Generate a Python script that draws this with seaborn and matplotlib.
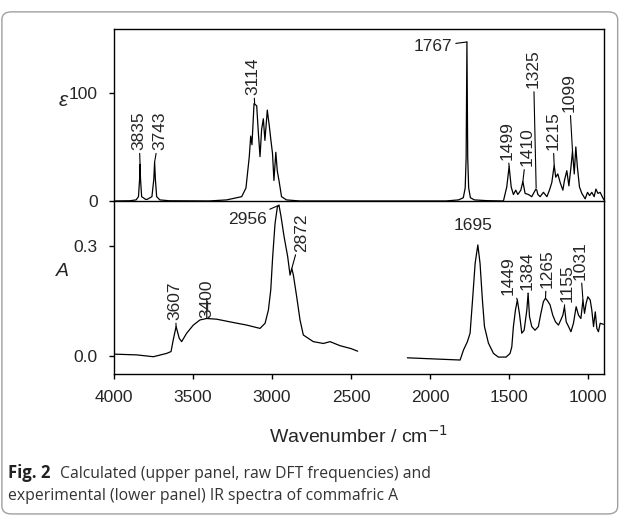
import pandas as pd
import numpy as np
import matplotlib.pyplot as plt
import seaborn as sns
from matplotlib.patches import FancyBboxPatch

## calculated spectrum (upper panel)
calc_wn = [4000, 3900, 3860, 3845, 3838, 3835, 3832, 3825, 3800, 3790, 3760, 3748, 3743, 3738, 3730, 3710, 3650,
           3400, 3287, 3192, 3165, 3144, 3135, 3127, 3118, 3114, 3097, 3087, 3076, 3066, 3055, 3045, 3030, 3017,
           3007, 2997, 2988, 2976, 2967, 2955, 2940, 2909, 2824, 2500,
           1900, 1820, 1790, 1778, 1772, 1767, 1762, 1756, 1745, 1720, 1640, 1536,
           1515, 1500, 1487, 1473, 1458, 1445, 1426, 1413, 1399, 1378, 1357, 1342, 1331, 1325, 1318, 1304, 1283,
           1261, 1245, 1230, 1215, 1205, 1192, 1177, 1160, 1150, 1135, 1122, 1109, 1099, 1088, 1078, 1068, 1055,
           1040, 1019, 1004, 991, 977, 962, 951, 938, 924, 911, 900]
calc_eps = [0, 0.2, 1, 4, 20, 34, 20, 4, 1.5, 1.5, 4, 20, 36, 20, 4, 1, 0.2,
            0, 1, 4, 12, 41, 60, 52, 78, 90, 88, 64, 41, 66, 76, 56, 84, 69,
            56, 44, 19, 45, 28, 18, 4, 1, 0, 0,
            0, 1, 3, 12, 40, 147, 40, 12, 3, 1, 0.3, 0,
            13, 32, 13, 6, 10, 6, 10, 18, 7, 6, 4, 8, 11, 10, 6, 4, 8,
            4, 10, 17, 33, 22, 25, 17, 10, 19, 28, 14, 31, 46, 25, 50, 31, 13,
            7, 2, 8, 5, 8, 4, 11, 7, 8, 4, 1]

## experimental spectrum (lower panel), two segments
exp1_wn = [4000, 3857, 3751, 3667, 3639, 3625, 3607, 3587, 3572, 3540, 3498, 3456, 3413, 3350, 3245, 3160,
           3076, 3044, 3023, 3008, 2996, 2981, 2966, 2956, 2943, 2924, 2901, 2886, 2875, 2865, 2844, 2823,
           2802, 2739, 2675, 2633, 2570, 2500, 2458]
exp1_abs = [0.005, 0.003, -0.002, 0.007, 0.012, 0.044, 0.08, 0.048, 0.039, 0.062, 0.084, 0.098, 0.102, 0.1,
            0.091, 0.084, 0.075, 0.089, 0.125, 0.18, 0.27, 0.36, 0.406, 0.41, 0.379, 0.325, 0.27, 0.22, 0.238,
            0.22, 0.161, 0.098, 0.057, 0.039, 0.034, 0.039, 0.028, 0.02, 0.013]
exp2_wn = [2144, 1810, 1789, 1764, 1747, 1730, 1715, 1698, 1684, 1669, 1656, 1631, 1599, 1568, 1519, 1494,
           1483, 1473, 1460, 1448, 1435, 1420, 1405, 1388, 1380, 1371, 1357, 1336, 1315, 1299, 1283, 1270,
           1257, 1241, 1224, 1207, 1188, 1173, 1160, 1150, 1139, 1124, 1109, 1093, 1076, 1061, 1046, 1033,
           1023, 1013, 1002, 987, 977, 966, 955, 945, 935, 924, 903]
exp2_abs = [-0.005, -0.011, 0.016, 0.039, 0.062, 0.161, 0.252, 0.302, 0.252, 0.152, 0.08, 0.035, 0.007,
            -0.003, -0.003, 0.007, 0.025, 0.08, 0.125, 0.152, 0.116, 0.062, 0.07, 0.125, 0.17, 0.107, 0.08,
            0.07, 0.08, 0.116, 0.148, 0.157, 0.15, 0.139, 0.111, 0.093, 0.084, 0.098, 0.111, 0.134, 0.093,
            0.08, 0.066, 0.089, 0.134, 0.111, 0.102, 0.152, 0.116, 0.143, 0.161, 0.152, 0.125, 0.08, 0.12,
            0.075, 0.066, 0.089, 0.086]

## peak labels: (label, peak x, peak y, text x, text y, rotation)
calc_labels = [('3835', 3835, 34, 3842, 47, 90), ('3743', 3743, 36, 3709, 47, 90),
               ('3114', 3110, 90, 3120, 98, 90), ('1767', 1767, 147, 1858, 143, 0),
               ('1499', 1500, 32, 1515, 38, 90), ('1410', 1413, 18, 1388, 32, 90),
               ('1325', 1329, 12, 1346, 104, 90), ('1215', 1215, 33, 1224, 47, 90),
               ('1099', 1099, 46, 1120, 82, 90)]
exp_labels = [('3607', 3607, 0.08, 3614, 0.098, 90), ('3400', 3413, 0.102, 3413, 0.104, 90),
              ('2956', 2956, 0.41, 3035, 0.372, 0), ('2872', 2875, 0.238, 2812, 0.284, 90),
              ('1695', 1698, 0.302, 1730, 0.335, 0), ('1449', 1448, 0.152, 1505, 0.166, 90),
              ('1384', 1380, 0.17, 1388, 0.18, 90), ('1265', 1270, 0.157, 1261, 0.185, 90),
              ('1155', 1150, 0.134, 1135, 0.148, 90), ('1031', 1033, 0.152, 1051, 0.207, 90)]

xticks = [4000, 3500, 3000, 2500, 2000, 1500, 1000]

calc = pd.DataFrame({'wn': calc_wn, 'eps': calc_eps})
exp1 = pd.DataFrame({'wn': exp1_wn, 'A': exp1_abs})
exp2 = pd.DataFrame({'wn': exp2_wn, 'A': exp2_abs})

sns.set_style('ticks')
plt.rcParams['font.family'] = ['Liberation Sans', 'DejaVu Sans']
plt.rcParams['axes.linewidth'] = 1.0

fig = plt.figure(figsize=(6.29, 5.16), dpi=100)
ax1 = fig.add_axes([0.1812, 0.6105, 0.779, 0.3333])
ax2 = fig.add_axes([0.1812, 0.2752, 0.779, 0.3353])

sns.lineplot(data=calc, x='wn', y='eps', sort=False, color='black', lw=0.9, ax=ax1)
sns.lineplot(data=exp1, x='wn', y='A', sort=False, color='black', lw=0.9, ax=ax2)
sns.lineplot(data=exp2, x='wn', y='A', sort=False, color='black', lw=0.9, ax=ax2)

for ax in [ax1, ax2]:
    ax.set_xlim(4000, 900)
    ax.set_xlabel('')
    ax.set_ylabel('')
    for s in ax.spines.values():
        s.set_color('black')
        s.set_visible(True)
    ax.tick_params(labelsize=12.5, length=3.6, width=1, color='black', pad=8)

ax1.set_ylim(0, 159)
ax1.set_yticks([0, 100])
ax1.set_xticks([])
ax1.spines['bottom'].set_visible(False)

ax2.set_ylim(-0.049, 0.4215)
ax2.set_yticks([0.0, 0.3])
ax2.set_yticklabels(['0.0', '0.3'])
ax2.set_xticks(xticks)
ax2.set_xticklabels([str(t) for t in xticks])
ax2.set_xlabel('Wavenumber / cm$^{-1}$', fontsize=14, labelpad=14)

for lab, px, py, tx, ty, rot in calc_labels:
    ax1.annotate(lab, xy=(px, py), xytext=(tx, ty), rotation=rot, fontsize=12.5,
                 ha='center' if rot else 'right', va='bottom' if rot else 'center',
                 arrowprops=dict(arrowstyle='-', lw=0.8, color='black', shrinkA=0, shrinkB=0))
for lab, px, py, tx, ty, rot in exp_labels:
    if lab == '1695':
        ax2.text(tx, ty, lab, fontsize=12.5, ha='center', va='bottom')
        continue
    ax2.annotate(lab, xy=(px, py), xytext=(tx, ty), rotation=rot, fontsize=12.5,
                 ha='center' if rot else 'right', va='bottom' if rot else 'center',
                 arrowprops=dict(arrowstyle='-', lw=0.8, color='black', shrinkA=0, shrinkB=0))

fig.text(0.100, 0.805, 'ε', fontsize=15, style='italic', ha='center', va='center')
fig.text(0.100, 0.473, 'A', fontsize=14, style='italic', ha='center', va='center')

## caption and frame
frame = FancyBboxPatch((0.003, 0.004), 0.979, 0.973, boxstyle='round,pad=0,rounding_size=0.015',
                       transform=fig.transFigure, fill=False, ec='#a0a0a0', lw=1)
fig.patches.append(frame)
t1 = fig.text(0.013, 0.074, 'Fig. 2', fontsize=12, weight='bold', family='Open Sans', color='#222222')
ax2.annotate('Calculated (upper panel, raw DFT frequencies) and', xy=(1, 0), xycoords=t1,
             xytext=(7, 0), textcoords='offset points', fontsize=11.3, family='Open Sans',
             color='#333333', va='bottom', annotation_clip=False)
fig.text(0.013, 0.031, 'experimental (lower panel) IR spectra of commafric A', fontsize=11.3,
         family='Open Sans', color='#333333')

plt.savefig('out.png', dpi=100)
